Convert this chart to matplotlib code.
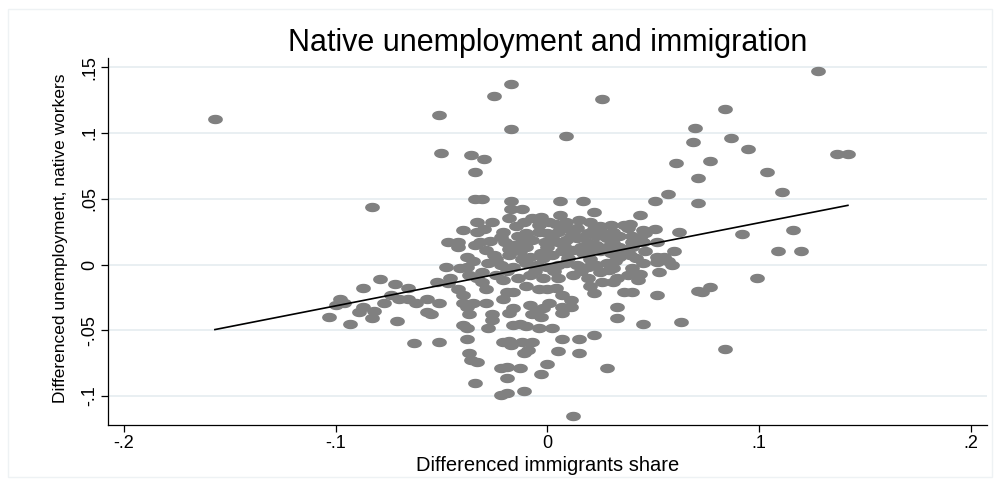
import numpy as np
import matplotlib as mpl
mpl.use("Agg")
import matplotlib.pyplot as plt
from matplotlib.path import Path
from matplotlib.patches import Rectangle

# scatter values (x = differenced immigrant share, y = differenced native unemployment)
# sparse / outlying points
out_x = [-0.157, -0.083, -0.051, -0.050, -0.025, -0.017, -0.017, 0.026, 0.009, -0.036, -0.030, -0.034,
         -0.034, -0.031, 0.070, 0.069, 0.061, 0.071, 0.071, 0.057, 0.051, 0.044, 0.128, 0.084, 0.087,
         0.095, 0.137, 0.142, 0.077, 0.104, 0.111, 0.092, 0.116, 0.109, 0.120, 0.099, 0.077, 0.073,
         0.084, 0.063, 0.045, 0.052, 0.071]
out_y = [0.111, 0.044, 0.114, 0.085, 0.128, 0.137, 0.103, 0.126, 0.098, 0.083, 0.080, 0.070,
         0.050, 0.050, 0.104, 0.093, 0.077, 0.066, 0.047, 0.054, 0.048, 0.038, 0.147, 0.118, 0.096,
         0.088, 0.084, 0.084, 0.079, 0.070, 0.055, 0.023, 0.026, 0.010, 0.010, -0.010, -0.017, -0.021,
         -0.064, -0.044, -0.045, -0.023, -0.020]

# left part of the cloud
left_x = [-0.033, -0.040, -0.033, -0.047, -0.042, -0.042, -0.034, -0.038, -0.035, -0.048, -0.041,
          -0.038, -0.079, -0.072, -0.052, -0.046, -0.037, -0.033, -0.032,
          -0.087, -0.066, -0.074, -0.098, -0.096, -0.100, -0.077, -0.070, -0.066, -0.057, -0.062,
          -0.051, -0.087, -0.089, -0.082, -0.083, -0.071, -0.057, -0.055, -0.103, -0.093, -0.042,
          -0.040, -0.040, -0.038, -0.037, -0.035, -0.040, -0.038, -0.063, -0.051, -0.038, -0.037,
          -0.036, -0.033, -0.047, -0.034, -0.031]
left_y = [0.032, 0.026, 0.025, 0.017, 0.017, 0.013, 0.015, 0.006, 0.003, -0.002, -0.003,
          -0.002, -0.011, -0.015, -0.013, -0.010, -0.008, -0.010, 0.017,
          -0.018, -0.018, -0.023, -0.026, -0.029, -0.031, -0.029, -0.026, -0.026, -0.026, -0.029,
          -0.029, -0.032, -0.036, -0.035, -0.041, -0.043, -0.036, -0.038, -0.040, -0.045, -0.019,
          -0.023, -0.029, -0.032, -0.038, -0.029, -0.046, -0.048, -0.060, -0.059, -0.057, -0.067,
          -0.073, -0.074, -0.014, -0.090, -0.013]

# dense centre of the cloud
mid_x = [-0.017, 0.006, 0.017, -0.017, -0.012, -0.018, 0.022, -0.026, -0.011, -0.007, -0.003,
         0.006, 0.001, 0.009, 0.015, 0.020, 0.025, 0.030, 0.036, -0.021, -0.014, -0.010, -0.004,
         0.000, 0.005, 0.009, 0.014, 0.019, 0.023, 0.028, 0.034, 0.038, -0.020, -0.016, -0.012,
         -0.007, -0.001, 0.005, 0.009, 0.014, 0.019, 0.023, 0.031, 0.034, -0.029, -0.025, -0.018,
         -0.013, -0.008, -0.003, 0.002, 0.007, 0.012, 0.017, 0.021, 0.025, 0.030, 0.034, -0.028,
         -0.022, -0.016, -0.010, -0.005, 0.000, 0.005, 0.009, 0.014, 0.019, 0.023, 0.028, 0.031,
         -0.031, -0.024, -0.021, -0.014, -0.008, -0.002, 0.005, 0.012, 0.019, 0.025, 0.033, 0.038]
mid_y = [0.048, 0.048, 0.048, 0.042, 0.042, 0.035, 0.040, 0.032, 0.032, 0.035, 0.036,
         0.038, 0.032, 0.032, 0.034, 0.032, 0.029, 0.030, 0.030, 0.025, 0.022, 0.024, 0.025,
         0.024, 0.025, 0.028, 0.028, 0.024, 0.022, 0.020, 0.022, 0.028, 0.017, 0.015, 0.016,
         0.019, 0.017, 0.017, 0.019, 0.020, 0.016, 0.015, 0.016, 0.013, 0.011, 0.007, 0.007,
         0.010, 0.006, 0.009, 0.007, 0.010, 0.011, 0.009, 0.011, 0.010, 0.009, 0.006, 0.001,
         0.000, -0.002, 0.001, 0.000, -0.002, 0.000, 0.001, 0.000, -0.002, 0.000, 0.001, -0.003,
         -0.006, -0.008, -0.012, -0.010, -0.008, -0.010, -0.010, -0.008, -0.010, -0.006, -0.010, -0.008]

# overlapping points hidden inside the solid core
core_x = [-0.015, -0.004, 0.004, 0.012, 0.022, 0.031, -0.022, -0.009, 0.002, 0.011, 0.017, 0.027,
          -0.018, -0.010, 0.000, 0.008, 0.016, 0.028, -0.024, -0.012, -0.002, 0.010, 0.020, 0.032,
          -0.019, -0.006, 0.003, 0.016, 0.029, -0.027, -0.030, 0.040, 0.036, -0.010, 0.020]
core_y = [0.029, 0.030, 0.031, 0.025, 0.027, 0.025, 0.021, 0.020, 0.021, 0.022, 0.021, 0.024,
          0.012, 0.013, 0.013, 0.014, 0.013, 0.013, 0.004, 0.004, 0.005, 0.005, 0.004, 0.003,
          -0.005, -0.005, -0.005, -0.005, -0.004, 0.018, 0.027, 0.017, 0.009, -0.016, -0.016]

# right part of the cloud
right_x = [0.039, 0.045, 0.051, 0.040, 0.044, 0.046, 0.062, 0.040, 0.045, 0.052, 0.046, 0.060,
           0.039, 0.042, 0.045, 0.052, 0.055, 0.052, 0.057, 0.059, 0.040, 0.044, 0.053, 0.043]
right_y = [0.031, 0.026, 0.027, 0.022, 0.020, 0.024, 0.025, 0.013, 0.017, 0.017, 0.010, 0.010,
           0.007, 0.005, 0.001, 0.006, 0.006, 0.002, 0.003, 0.000, -0.003, -0.007, -0.006, -0.012]

# lower part of the cloud
low_x = [-0.029, -0.029, -0.019, -0.016, -0.021, -0.016, -0.018, -0.026, -0.026, -0.028, -0.016,
         -0.013, -0.010, -0.008, -0.005, -0.002, 0.001, -0.007, -0.003, -0.004, 0.002, 0.007,
         0.011, 0.007, 0.011, 0.022, 0.033, 0.033, -0.021, -0.018, -0.017, -0.012, -0.007, -0.011,
         -0.009, 0.007, 0.015, 0.022, 0.005, 0.015, -0.022, -0.019, -0.013, 0.000, -0.003, 0.028,
         -0.019, 0.007, -0.004, 0.000, 0.004, 0.026, 0.031, 0.036, 0.040, -0.022, -0.019, -0.011,
         0.012]
low_y = [-0.019, -0.029, -0.021, -0.021, -0.026, -0.033, -0.037, -0.038, -0.042, -0.048, -0.046,
         -0.045, -0.047, -0.031, -0.035, -0.033, -0.029, -0.038, -0.040, -0.048, -0.048, -0.032,
         -0.032, -0.037, -0.027, -0.022, -0.032, -0.041, -0.059, -0.058, -0.061, -0.059, -0.059, -0.067,
         -0.065, -0.057, -0.057, -0.054, -0.066, -0.067, -0.079, -0.078, -0.079, -0.076, -0.083, -0.079,
         -0.086, -0.023, -0.019, -0.019, -0.018, -0.013, -0.013, -0.021, -0.021, -0.099, -0.098, -0.096,
         -0.115]

# fitted line end points
fit_x = [-0.157, 0.142]
fit_y = [-0.0495, 0.045]

xticks = [-0.2, -0.1, 0, 0.1, 0.2]
xtick_labels = ["-.2", "-.1", "0", ".1", ".2"]
yticks = [-0.1, -0.05, 0, 0.05, 0.1, 0.15]
ytick_labels = ["-.1", "-.05", "0", ".05", ".1", ".15"]

x = np.array(out_x + left_x + mid_x + core_x + right_x + low_x)
y = np.array(out_y + left_y + mid_y + core_y + right_y + low_y)

plt.rcParams['font.family'] = ['Liberation Sans', 'DejaVu Sans']

fig = plt.figure(figsize=(10, 4.87), dpi=100)
ax = fig.add_axes([0.108, 0.1273, 0.879, 0.7536])

# stretched ellipse marker like the original graph
t = np.linspace(0, 2*np.pi, 48)
ell = Path(np.column_stack([np.cos(t), 0.6*np.sin(t)]))

for yt in yticks:
    ax.axhline(yt, color='#e7eef1', lw=1.3, zorder=0)
ax.plot(x, y, linestyle='none', marker=ell, markersize=9.6, color='#808080', zorder=2)
ax.plot(fit_x, fit_y, color='black', lw=1.2, zorder=3)

ax.set_xlim(-0.2075, 0.2077)
ax.set_ylim(-0.1221, 0.1571)
ax.set_xticks(xticks)
ax.set_xticklabels(xtick_labels, fontsize=13)
ax.set_yticks(yticks)
ax.set_yticklabels(ytick_labels, fontsize=13, rotation=90, va='center')
ax.tick_params(axis='both', direction='out', length=5, width=0.9, color='black')
ax.tick_params(axis='x', pad=2)
ax.tick_params(axis='y', pad=2)

for s in ('top', 'right'):
    ax.spines[s].set_visible(False)
for s in ('left', 'bottom'):
    ax.spines[s].set_linewidth(0.9)

ax.set_xlabel("Differenced immigrants share", fontsize=14.5)
ax.xaxis.set_label_coords(0.5, -0.085)
ax.set_ylabel("Differenced unemployment, native workers", fontsize=12.5,
              family=['Liberation Sans Narrow', 'Liberation Sans', 'DejaVu Sans'])
ax.yaxis.set_label_coords(-0.045, 0.51)

fig.text(0.5473, 1 - 51/487, "Native unemployment and immigration", fontsize=22,
         ha='center', va='baseline')

# faint outer frame of the graph region
fig.add_artist(Rectangle((0.008, 0.02), 0.984, 0.962, transform=fig.transFigure,
                         fill=False, ec='#eef2f4', lw=1))

fig.savefig("out.png", dpi=100)
